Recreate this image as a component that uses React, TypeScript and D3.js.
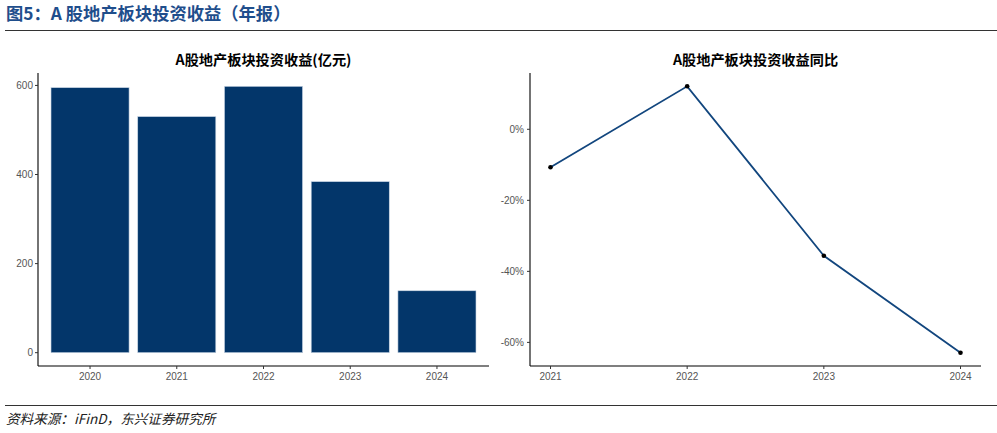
import React from "react";
import * as d3 from "d3";

const years = ["2020", "2021", "2022", "2023", "2024"];
const income = [595, 530, 598, 384, 139];
const yoyYears = ["2021", "2022", "2023", "2024"];
const yoy = [-10.7, 12.1, -35.6, -62.9];
const incomeTicks = [0, 200, 400, 600];
const yoyTicks = [-60, -40, -20, 0];

const W = 997;
const H = 433;
const CJK = "'Noto Sans CJK SC', 'Liberation Sans', sans-serif";
const NUM = "'Liberation Sans', Arial, sans-serif";

export default function App() {
  // left panel
  const L = { x0: 38, x1: 489, y0: 73, y1: 366 };
  const yMaxL = d3.max(income)!;
  const padL = yMaxL * 0.05;
  const yL = d3.scaleLinear().domain([-padL, yMaxL + padL]).range([L.y1, L.y0]);
  const stepL = (L.x1 - L.x0) / (years.length - 1 + 1.2);
  const xL = (i: number) => L.x0 + (i + 0.6) * stepL;
  const bw = stepL * 0.9;

  // right panel
  const R = { x0: 530, x1: 981, y0: 73, y1: 366 };
  const [mn, mx] = d3.extent(yoy) as [number, number];
  const padR = (mx - mn) * 0.05;
  const yR = d3.scaleLinear().domain([mn - padR, mx + padR]).range([R.y1, R.y0]);
  const xR = d3
    .scalePoint<string>()
    .domain(yoyYears)
    .range([R.x0, R.x1])
    .padding(0.15);
  const line = d3
    .line<number>()
    .x((_, i) => xR(yoyYears[i])!)
    .y((d) => yR(d));

  const tickFill = "#555";

  return (
    <svg width={W} height={H} style={{ position: "absolute", left: 0, top: 0, background: "#fff" }}>
      <text x={6} y={20} fontFamily={CJK} fontWeight={700} fontSize={17.3} fill="#1f4e8c">
        图5：A 股地产板块投资收益（年报）
      </text>
      <line x1={5} x2={997} y1={30.5} y2={30.5} stroke="#333" strokeWidth={1.2} />

      {/* left chart */}
      <text x={(L.x0 + L.x1) / 2} y={65} textAnchor="middle" fontFamily={CJK} fontWeight={700} fontSize={14.2} fill="#000">
        A股地产板块投资收益(亿元)
      </text>
      {income.map((v, i) => (
        <rect
          key={years[i]}
          x={xL(i) - bw / 2}
          y={yL(v)}
          width={bw}
          height={yL(0) - yL(v)}
          fill="#03366a"
          stroke="#c9d6e4"
          strokeWidth={0.6}
        />
      ))}
      <line x1={L.x0} x2={L.x0} y1={L.y0} y2={L.y1} stroke="#000" strokeWidth={1.1} />
      <line x1={L.x0} x2={L.x1} y1={L.y1} y2={L.y1} stroke="#000" strokeWidth={1.1} />
      {incomeTicks.map((t) => (
        <g key={t}>
          <line x1={L.x0 - 3} x2={L.x0} y1={yL(t)} y2={yL(t)} stroke="#333" />
          <text x={L.x0 - 5} y={yL(t) + 3.5} textAnchor="end" fontFamily={NUM} fontSize={10} fill={tickFill}>
            {t}
          </text>
        </g>
      ))}
      {years.map((y, i) => (
        <g key={y}>
          <line x1={xL(i)} x2={xL(i)} y1={L.y1} y2={L.y1 + 3} stroke="#333" />
          <text x={xL(i)} y={L.y1 + 13.5} textAnchor="middle" fontFamily={NUM} fontSize={10} fill={tickFill}>
            {y}
          </text>
        </g>
      ))}

      {/* right chart */}
      <text x={(R.x0 + R.x1) / 2} y={65} textAnchor="middle" fontFamily={CJK} fontWeight={700} fontSize={14.2} fill="#000">
        A股地产板块投资收益同比
      </text>
      <path d={line(yoy)!} fill="none" stroke="#12467e" strokeWidth={1.8} />
      {yoy.map((v, i) => (
        <circle key={i} cx={xR(yoyYears[i])!} cy={yR(v)} r={2.3} fill="#000" />
      ))}
      <line x1={R.x0} x2={R.x0} y1={R.y0} y2={R.y1} stroke="#000" strokeWidth={1.1} />
      <line x1={R.x0} x2={R.x1} y1={R.y1} y2={R.y1} stroke="#000" strokeWidth={1.1} />
      {yoyTicks.map((t) => (
        <g key={t}>
          <line x1={R.x0 - 3} x2={R.x0} y1={yR(t)} y2={yR(t)} stroke="#333" />
          <text x={R.x0 - 6} y={yR(t) + 3.5} textAnchor="end" fontFamily={NUM} fontSize={10} fill={tickFill}>
            {t}%
          </text>
        </g>
      ))}
      {yoyYears.map((y) => (
        <g key={y}>
          <line x1={xR(y)!} x2={xR(y)!} y1={R.y1} y2={R.y1 + 3} stroke="#333" />
          <text x={xR(y)!} y={R.y1 + 13.5} textAnchor="middle" fontFamily={NUM} fontSize={10} fill={tickFill}>
            {y}
          </text>
        </g>
      ))}

      <line x1={5} x2={997} y1={405.5} y2={405.5} stroke="#333" strokeWidth={1.2} />
      <text x={6} y={424} fontFamily={CJK} fontStyle="italic" fontSize={13.6} fill="#222">
        资料来源：iFinD，东兴证券研究所
      </text>
    </svg>
  );
}
